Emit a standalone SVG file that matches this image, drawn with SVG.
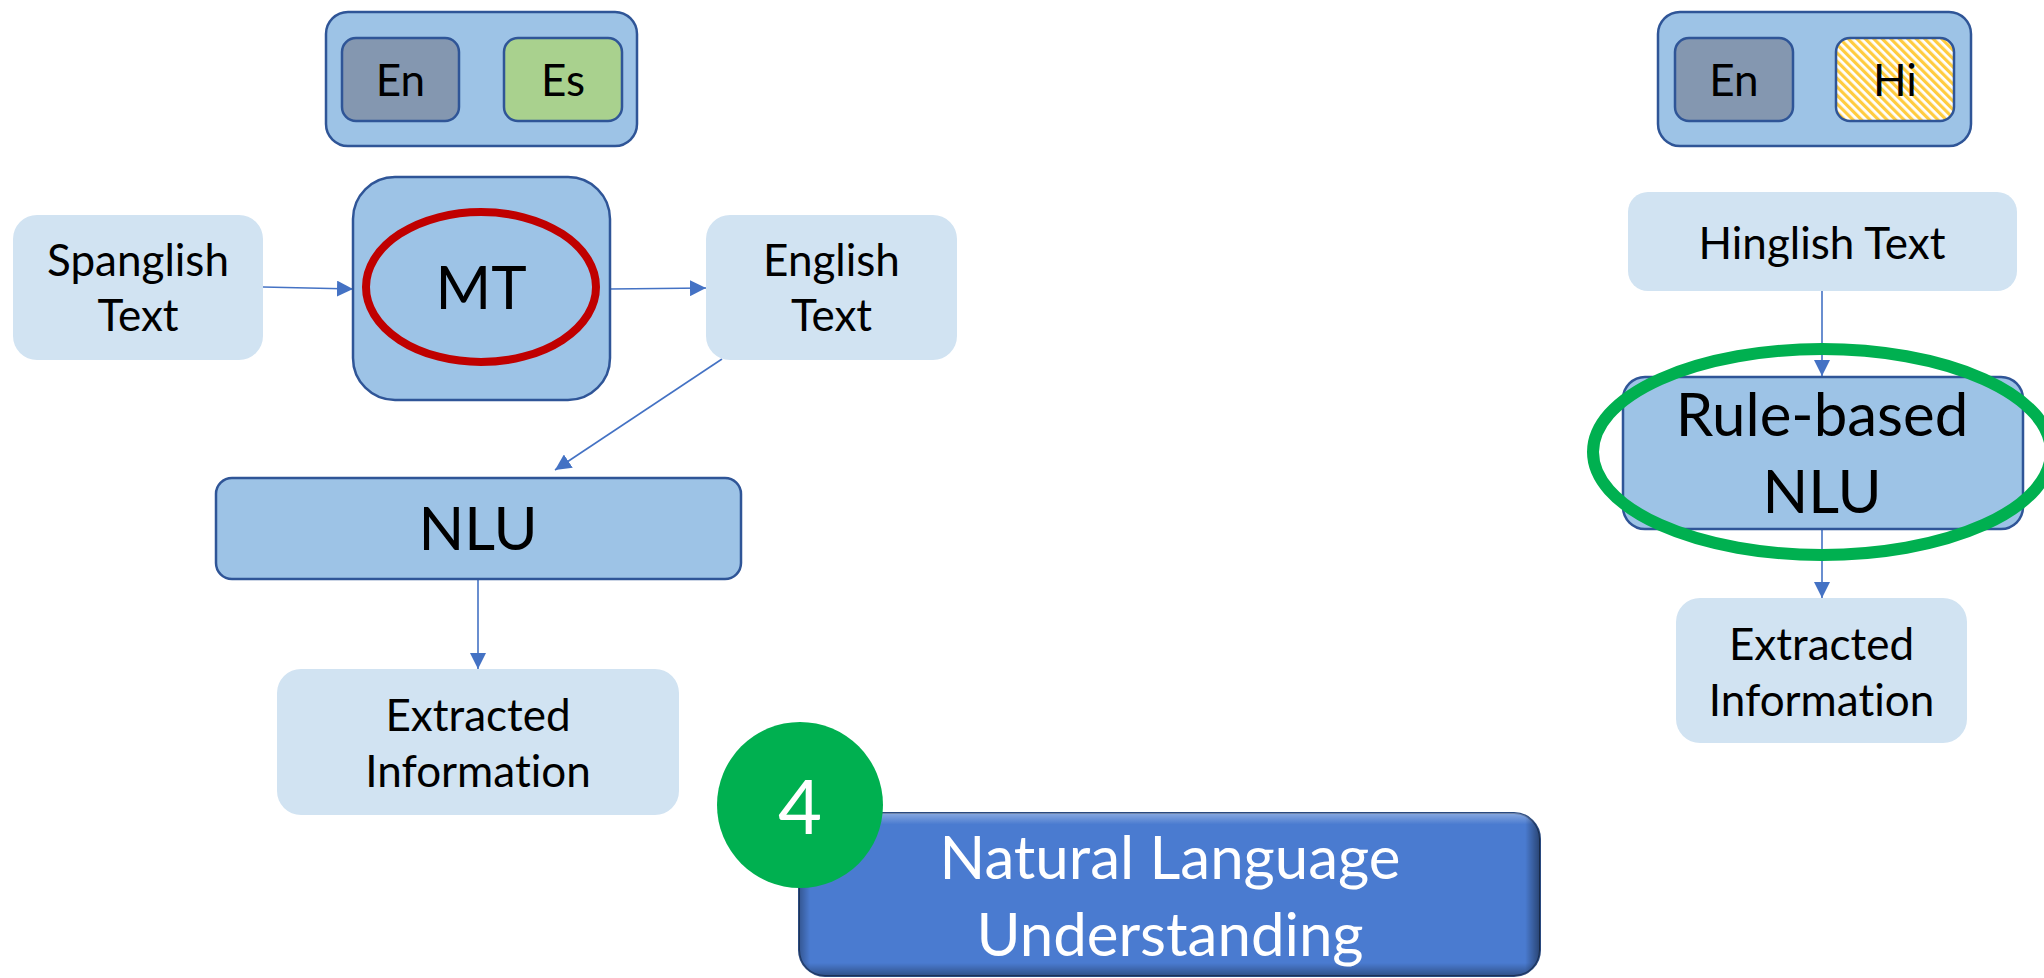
<svg xmlns="http://www.w3.org/2000/svg" width="2044" height="978" viewBox="0 0 2044 978">
<defs>
<style>
.t{font-family:Lato,"Open Sans",sans-serif;fill:#000;text-anchor:middle;font-variant-ligatures:none;font-feature-settings:"liga" 0}
.s{font-size:44px}
.b{font-size:60px}
.light{fill:#D1E3F2;stroke:none}
.mid{fill:#9DC3E6;stroke:#2F5597;stroke-width:2.5}
.con{fill:none;stroke:#4472C4;stroke-width:1.6}
.w{fill:#fff}
</style>
<marker id="ah" markerUnits="userSpaceOnUse" markerWidth="18" markerHeight="16" refX="16" refY="8" orient="auto">
<path d="M0,0 L16,8 L0,16 Z" fill="#4472C4"/>
</marker>
<pattern id="hatch" patternUnits="userSpaceOnUse" width="6" height="6" patternTransform="rotate(-45)">
<rect width="6" height="6" fill="#fff"/>
<rect width="3.2" height="6" fill="#FFCC40"/>
</pattern>
<linearGradient id="bev" x1="0" y1="0" x2="0" y2="1">
<stop offset="0" stop-color="#ffffff" stop-opacity="0.35"/>
<stop offset="0.07" stop-color="#ffffff" stop-opacity="0"/>
<stop offset="0.92" stop-color="#000000" stop-opacity="0"/>
<stop offset="1" stop-color="#000000" stop-opacity="0.35"/>
</linearGradient>
<linearGradient id="bevh" x1="0" y1="0" x2="1" y2="0">
<stop offset="0" stop-color="#000000" stop-opacity="0.3"/>
<stop offset="0.015" stop-color="#000000" stop-opacity="0"/>
<stop offset="0.98" stop-color="#000000" stop-opacity="0"/>
<stop offset="1" stop-color="#000000" stop-opacity="0.45"/>
</linearGradient>
</defs>
<rect width="2044" height="978" fill="#fff"/>

<g id="connectors">
<line class="con" x1="263" y1="287" x2="353" y2="289" marker-end="url(#ah)"/>
<line class="con" x1="610" y1="289" x2="706" y2="288" marker-end="url(#ah)"/>
<line class="con" x1="722" y1="359" x2="555" y2="470" marker-end="url(#ah)"/>
<line class="con" x1="478" y1="580" x2="478" y2="669" marker-end="url(#ah)"/>
<line class="con" x1="1822" y1="291" x2="1822" y2="376" marker-end="url(#ah)"/>
<line class="con" x1="1822" y1="529" x2="1822" y2="598" marker-end="url(#ah)"/>
</g>

<g id="lang-left">
<rect class="mid" x="326" y="12" width="311" height="134" rx="22"/>
<rect x="342" y="38" width="117" height="83" rx="14" fill="#8497B0" stroke="#2F5597" stroke-width="2.5"/>
<rect x="504" y="38" width="118" height="83" rx="14" fill="#A9D18E" stroke="#2F5597" stroke-width="2.5"/>
<text class="t s" x="400.5" y="96">En</text>
<text class="t s" x="563" y="96">Es</text>
</g>

<g id="lang-right">
<rect class="mid" x="1658" y="12" width="313" height="134" rx="22"/>
<rect x="1675" y="38" width="118" height="83" rx="14" fill="#8497B0" stroke="#2F5597" stroke-width="2.5"/>
<rect x="1836" y="38" width="118" height="83" rx="14" fill="url(#hatch)" stroke="#2F5597" stroke-width="2.5"/>
<text class="t s" x="1734" y="96">En</text>
<text class="t s" x="1895" y="96">Hi</text>
</g>

<g id="spanglish">
<rect class="light" x="13" y="215" width="250" height="145" rx="24"/>
<text class="t s" x="138" y="276">Spanglish</text>
<text class="t s" x="138" y="331">Text</text>
</g>

<g id="mt">
<rect class="mid" x="353" y="177" width="257" height="223" rx="42"/>
<ellipse cx="481" cy="287" rx="115" ry="75" fill="none" stroke="#C00000" stroke-width="8"/>
<text class="t b" x="481" y="309">MT</text>
</g>

<g id="english">
<rect class="light" x="706" y="215" width="251" height="145" rx="24"/>
<text class="t s" x="831.5" y="276">English</text>
<text class="t s" x="831.5" y="331">Text</text>
</g>

<g id="nlu">
<rect class="mid" x="216" y="478" width="525" height="101" rx="16"/>
<text class="t b" x="478" y="550">NLU</text>
</g>

<g id="extracted-left">
<rect class="light" x="277" y="669" width="402" height="146" rx="24"/>
<text class="t s" x="478" y="731">Extracted</text>
<text class="t s" x="478" y="787">Information</text>
</g>

<g id="hinglish">
<rect class="light" x="1628" y="192" width="389" height="99" rx="20"/>
<text class="t s" x="1822" y="259">Hinglish Text</text>
</g>

<g id="rule-nlu">
<rect class="mid" x="1623" y="377" width="400" height="152" rx="22"/>
<text class="t b" x="1822" y="436">Rule-based</text>
<text class="t b" x="1822" y="513">NLU</text>
<ellipse cx="1822" cy="452" rx="229" ry="103" fill="none" stroke="#00B050" stroke-width="12"/>
</g>

<g id="extracted-right">
<rect class="light" x="1676" y="598" width="291" height="145" rx="24"/>
<text class="t s" x="1821.5" y="660">Extracted</text>
<text class="t s" x="1821.5" y="716">Information</text>
</g>

<g id="title">
<rect x="799" y="813" width="741" height="163" rx="26" fill="#4A7BD0" stroke="#2A4A80" stroke-width="2"/>
<rect x="799" y="813" width="741" height="163" rx="26" fill="url(#bev)"/>
<rect x="799" y="813" width="741" height="163" rx="26" fill="url(#bevh)"/>
<text class="t b w" x="1170" y="879">Natural Language</text>
<text class="t b w" x="1170" y="956">Understanding</text>
</g>

<g id="step-4">
<circle cx="800" cy="805" r="83" fill="#00B050"/>
<text class="t w" x="800" y="834" style="font-size:76px">4</text>
</g>
</svg>
